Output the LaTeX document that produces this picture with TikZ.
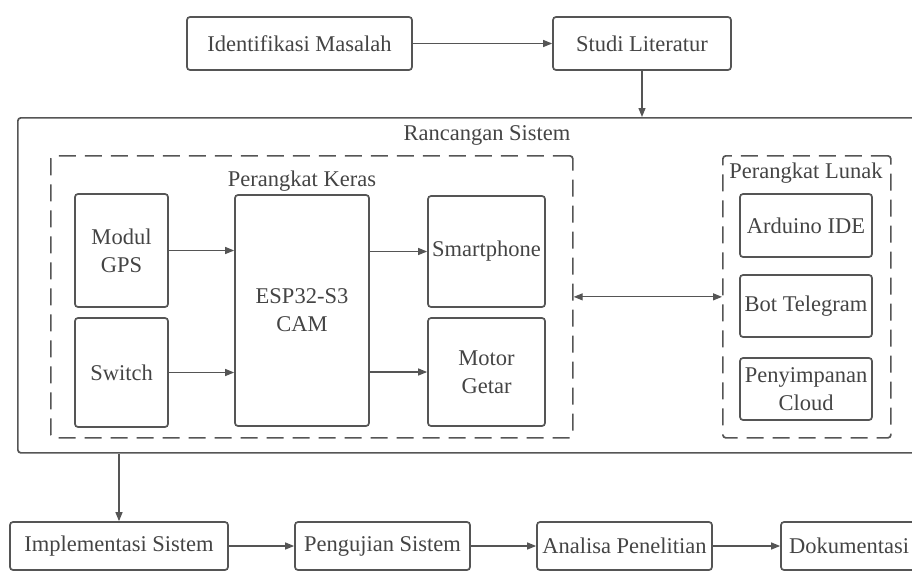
\documentclass[tikz,border=0pt]{standalone}
\usepackage{fontspec}
\setmainfont{Liberation Serif}
\usepackage{tikz}
\usetikzlibrary{arrows.meta}
\usetikzlibrary{positioning}
\definecolor{garis}{HTML}{555555}
\definecolor{teks}{HTML}{444444}

\begin{document}
\begin{tikzpicture}[x=1pt, y=-1pt, >={Triangle[length=9pt,width=7pt]},
	kotak/.style={draw=garis, line width=1.7pt, rounded corners=3pt, text=teks, align=center, inner sep=0pt, font=\fontsize{22.5}{28}\selectfont},
	putus/.style={kotak, dashed, dash pattern=on 17pt off 9pt},
	panah/.style={->, draw=garis, line width=1.2pt},
	judul/.style={text=teks, font=\fontsize{22.5}{28}\selectfont, inner sep=0pt}]

	\useasboundingbox (0,0) rectangle (912,570);
	\clip (0,0) rectangle (912,570);

	% Baris atas
	\node[kotak, minimum width=225, minimum height=53] (idm) at (299.5,43.5) {Identifikasi Masalah};
	\node[kotak, minimum width=178, minimum height=53] (studi) at (642,43.5) {Studi Literatur};
	\draw[panah] (idm) -- (studi);

	% Rancangan sistem
	\node[kotak, anchor=north west, minimum width=910, minimum height=335] (rs) at (17,117) {};
	\node[judul] (rsjudul) at (487,135) {Rancangan Sistem};
	\draw[panah] (studi.south) -- (studi.south |- rs.north);

	% Perangkat keras
	\node[putus, anchor=north west, minimum width=522, minimum height=282] (keras) at (50,155) {};
	\node[judul] (kerasjudul) at (302,181) {Perangkat Keras};
	\node[kotak, minimum width=93, minimum height=113] (gps) at (121.5,250.5) {Modul\\GPS};
	\node[kotak, minimum width=93, minimum height=109] (switch) at (121.5,372.5) {Switch};
	\node[kotak, minimum width=134, minimum height=231] (esp) at (302,310.5) {ESP32-S3\\CAM};
	\node[kotak, minimum width=117, minimum height=111] (smart) at (486.5,251.5) {Smartphone};
	\node[kotak, minimum width=117, minimum height=108] (motor) at (486.5,372) {Motor\\Getar};

	\draw[panah] (gps.east) -- (gps.east -| esp.west);
	\draw[panah] (switch.east) -- (switch.east -| esp.west);
	\draw[panah] (smart.west -| esp.east) -- (smart.west);
	\draw[panah] (motor.west -| esp.east) -- (motor.west);

	% Perangkat lunak
	\node[putus, anchor=north west, minimum width=168, minimum height=282] (lunak) at (722,155) {};
	\node[judul] (lunakjudul) at (806,173) {Perangkat Lunak};
	\node[kotak, minimum width=132, minimum height=63] (ide) at (806,225.5) {Arduino IDE};
	\node[kotak, minimum width=132, minimum height=62] (bot) at (806,306) {Bot Telegram};
	\node[kotak, minimum width=132, minimum height=62] (cloud) at (806,389) {Penyimpanan\\Cloud};

	\draw[panah, <->] (keras.east) -- (lunak.west);

	% Baris bawah
	\node[kotak, minimum width=218, minimum height=48] (impl) at (119,546) {Implementasi Sistem};
	\node[kotak, minimum width=175, minimum height=48] (uji) at (382.5,546) {Pengujian Sistem};
	\node[kotak, minimum width=175, minimum height=48] (analisa) at (624.5,546) {Analisa Penelitian};
	\node[kotak, minimum width=136, minimum height=48] (dok) at (849,546) {Dokumentasi};

	\draw[panah] (rs.south -| impl.north) -- (impl.north);
	\draw[panah] (impl) -- (uji);
	\draw[panah] (uji) -- (analisa);
	\draw[panah] (analisa) -- (dok);

\end{tikzpicture}
\end{document}
